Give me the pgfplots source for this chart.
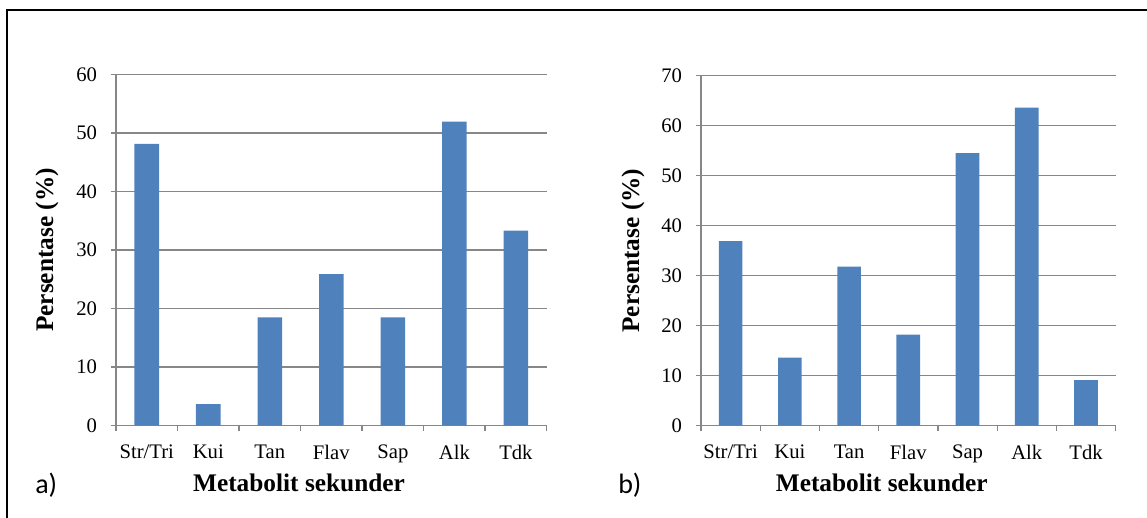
\documentclass[border=0pt]{standalone}
\usepackage{fontspec}
\setmainfont{Liberation Serif}
\newfontfamily\calib{Carlito}
\usepackage{pgfplots}
\pgfplotsset{compat=1.18}
\definecolor{barblue}{HTML}{4F81BD}
\definecolor{gridgray}{HTML}{878787}
\pgfplotsset{
  myaxis/.style={
    scale only axis,
    anchor=south west,
    ybar, bar width=0.4,
    xmin=-0.5, xmax=6.5, ymin=0,
    xtick={-0.5,0.5,...,6.5},
    x tick label as interval,
    xticklabels={Str/Tri,Kui,Tan,Flav,Sap,Alk,Tdk},
    axis x line*=bottom, axis y line*=left,
    axis line style={gridgray, line width=1pt},
    ymajorgrids, grid style={gridgray, line width=1pt},
    tick style={gridgray, line width=1pt},
    tick align=outside, major tick length=3.75pt,
    /pgf/number format/assume math mode=true,
    tick label style={font=\fontsize{15.5}{18}\selectfont},
    yticklabel style={xshift=-7pt},
    xticklabel style={yshift=-7pt},
    label style={font=\bfseries\fontsize{19}{22}\selectfont},
    xlabel={Metabolit sekunder},
    ylabel={Persentase (\%)},
  }
}
\begin{document}
\begin{tikzpicture}
\useasboundingbox (0,0) rectangle (860.25pt,388.5pt);
\draw[line width=1.5pt] (5.25pt,-5pt) -- (5.25pt,381pt) -- (870pt,381pt);
\begin{axis}[myaxis,
  at={(87pt,69.2pt)}, width=323pt, height=263.6pt,
  ymax=60, ytick={0,10,...,60},
  xlabel style={at={(axis description cs:0.425,-0.186)}, anchor=base},
  ylabel style={at={(axis description cs:-0.160,0.5)}, anchor=center},
]
\addplot[fill=barblue, draw=none] coordinates {(0,48.1) (1,3.7) (2,18.5) (3,25.9) (4,18.5) (5,51.9) (6,33.3)};
\end{axis}
\begin{axis}[myaxis,
  at={(525.75pt,69.2pt)}, width=311pt, height=262.5pt,
  ymax=70, ytick={0,10,...,70},
  xlabel style={at={(axis description cs:0.436,-0.187)}, anchor=base},
  ylabel style={at={(axis description cs:-0.164,0.5)}, anchor=center},
]
\addplot[fill=barblue, draw=none] coordinates {(0,36.9) (1,13.6) (2,31.8) (3,18.2) (4,54.5) (5,63.6) (6,9.1)};
\end{axis}
\node[anchor=base west, inner sep=0, font=\calib\fontsize{21}{25}\selectfont] at (26.25pt,18pt) {a)};
\node[anchor=base west, inner sep=0, font=\calib\fontsize{21}{25}\selectfont] at (463.5pt,18pt) {b)};
\end{tikzpicture}
\end{document}
